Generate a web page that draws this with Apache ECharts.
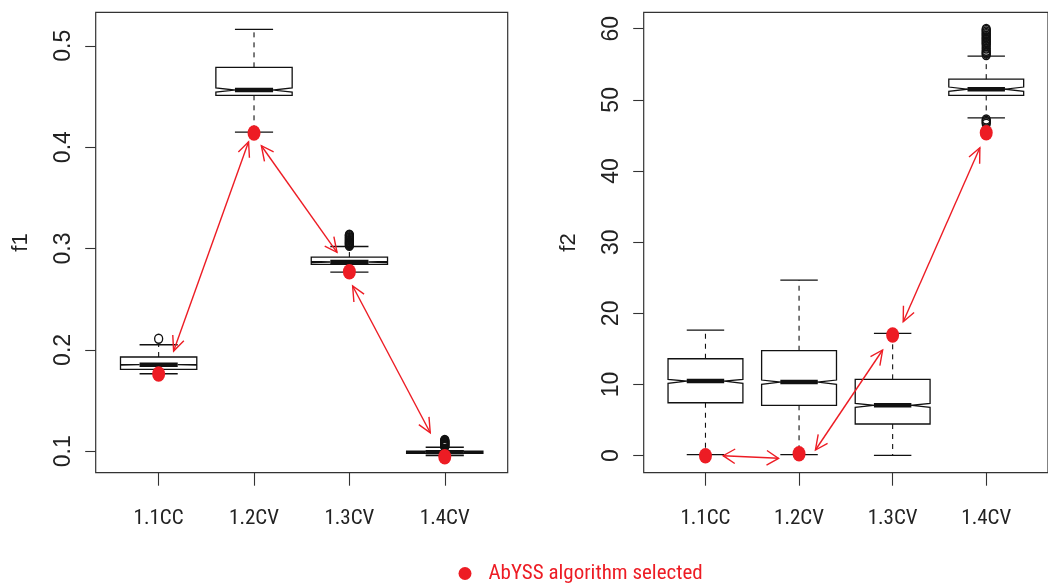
<!DOCTYPE html>
<html>
<head>
<meta charset="utf-8">
<script src="https://cdn.jsdelivr.net/npm/echarts@6/dist/echarts.min.js"></script>
<style>html,body{margin:0;padding:0;background:#fff}#c{width:1048px;height:585px}</style>
</head>
<body>
<div id="c"></div>
<script>
// ---- data ----
const categories = ['1.1CC', '1.2CV', '1.3CV', '1.4CV'];

// panel f1
const f1LowerWhisker = [0.1765, 0.4149, 0.2768, 0.0958];
const f1Q1           = [0.1809, 0.4511, 0.2844, 0.0979];
const f1NotchLow     = [0.1850, 0.4543, 0.2862, 0.0987];
const f1Median       = [0.1854, 0.4563, 0.2867, 0.0990];
const f1NotchHigh    = [0.1858, 0.4585, 0.2872, 0.0993];
const f1Q3           = [0.1930, 0.4787, 0.2916, 0.1001];
const f1UpperWhisker = [0.2051, 0.5162, 0.3020, 0.1040];
const f1Outliers = [
  [0.2110],
  [],
  [0.3028, 0.3036, 0.3044, 0.3052, 0.3060, 0.3068, 0.3076, 0.3085, 0.3094, 0.3103, 0.3112, 0.3122, 0.3130, 0.3136],
  [0.1046, 0.1052, 0.1058, 0.1064, 0.1070, 0.1076, 0.1082, 0.1088, 0.1094, 0.1100, 0.1106, 0.1112]
];
const f1Selected = [0.1762, 0.4139, 0.2771, 0.0947];
const f1Arrows = [
  [1.157, 0.1989, 1.943, 0.4053],
  [2.077, 0.4014, 2.870, 0.2963],
  [3.034, 0.2630, 3.848, 0.1183]
];
const f1Ticks = [0.1, 0.2, 0.3, 0.4, 0.5];

// panel f2
const f2LowerWhisker = [0.14, 0.14, 0.05, 47.47];
const f2Q1           = [7.44, 7.08, 4.45, 50.62];
const f2NotchLow     = [10.17, 10.03, 6.80, 51.20];
const f2Median       = [10.49, 10.35, 7.08, 51.50];
const f2NotchHigh    = [10.73, 10.63, 7.36, 51.80];
const f2Q3           = [13.62, 14.75, 10.73, 52.91];
const f2UpperWhisker = [17.65, 24.68, 17.19, 56.14];
const f2Outliers = [
  [],
  [],
  [],
  [56.3, 56.5, 56.7, 56.9, 57.2, 57.5, 57.8, 58.0, 58.2, 58.4, 58.6, 58.8, 59.0, 59.2, 59.4, 59.6, 59.8, 59.95,
   47.25, 47.05, 46.85, 46.65]
];
const f2Selected = [0.0, 0.28, 16.95, 45.37];
const f2Arrows = [
  [1.189, 0.00, 1.781, -0.37],
  [2.175, 0.80, 2.893, 14.85],
  [3.113, 18.82, 3.932, 43.26]
];
const f2Ticks = [0, 10, 20, 30, 40, 50, 60];

const legendName = 'AbYSS algorithm selected';
// --------------------------------------

const RED = '#ed1c24';
const INK = '#111';
const NARROW = '"Roboto Condensed", "Liberation Sans", sans-serif';
const SANS = '"Liberation Sans", Arial, sans-serif';
const SQUEEZE = 0.83;

function boxData(lw, q1, nlo, med, nhi, q3, uw) {
  return categories.map((c, i) => [i + 1, lw[i], q1[i], nlo[i], med[i], nhi[i], q3[i], uw[i]]);
}
function outlierData(list) {
  const out = [];
  list.forEach((arr, i) => arr.forEach(v => out.push([i + 1, v])));
  return out;
}
function selectedData(vals) {
  return vals.map((v, i) => [i + 1, v]);
}

function renderBox(params, api) {
  const x = api.value(0);
  const lw = api.value(1), q1 = api.value(2), nlo = api.value(3), med = api.value(4),
        nhi = api.value(5), q3 = api.value(6), uw = api.value(7);
  const P = (dx, y) => api.coord([x + dx, y]);
  const H = 0.4, N = 0.2, S = 0.2;
  const pts = [P(-H, q1), P(-H, nlo), P(-N, med), P(-H, nhi), P(-H, q3),
               P(H, q3), P(H, nhi), P(N, med), P(H, nlo), P(H, q1)];
  const ln = (a, b, style) => ({ type: 'line', shape: { x1: a[0], y1: a[1], x2: b[0], y2: b[1] }, style: style });
  const solid = { stroke: INK, lineWidth: 1.3 };
  const dashed = { stroke: INK, lineWidth: 1.1, lineDash: [5, 5] };
  return {
    type: 'group',
    children: [
      ln(P(0, q3), P(0, uw), dashed),
      ln(P(0, q1), P(0, lw), dashed),
      ln(P(-S, uw), P(S, uw), solid),
      ln(P(-S, lw), P(S, lw), solid),
      { type: 'polygon', shape: { points: pts }, style: { fill: 'rgba(0,0,0,0)', stroke: INK, lineWidth: 1.3 } },
      ln(P(-N, med), P(N, med), { stroke: INK, lineWidth: 4.5 })
    ]
  };
}

function renderArrow(params, api) {
  const a = api.coord([api.value(0), api.value(1)]);
  const b = api.coord([api.value(2), api.value(3)]);
  const L = 16, ANG = 27 * Math.PI / 180;
  function head(tip, from) {
    let dx = (from[0] - tip[0]) / SQUEEZE, dy = from[1] - tip[1];
    const len = Math.sqrt(dx * dx + dy * dy) || 1;
    dx /= len; dy /= len;
    const arm = s => {
      const c = Math.cos(s * ANG), sn = Math.sin(s * ANG);
      const rx = dx * c - dy * sn, ry = dx * sn + dy * c;
      return [tip[0] + rx * L * SQUEEZE, tip[1] + ry * L];
    };
    return { type: 'polyline', shape: { points: [arm(1), tip, arm(-1)] },
             style: { fill: null, stroke: RED, lineWidth: 1.4 } };
  }
  return {
    type: 'group',
    children: [
      { type: 'line', shape: { x1: a[0], y1: a[1], x2: b[0], y2: b[1] }, style: { stroke: RED, lineWidth: 1.4 } },
      head(a, b),
      head(b, a)
    ]
  };
}

const grids = [
  { left: 95.7, top: 12.3, width: 412, height: 460.4 },
  { left: 643.7, top: 12.3, width: 412, height: 460.4 }
];
const gridStyle = { show: true, borderColor: '#333', borderWidth: 1.2, backgroundColor: 'transparent' };

function xAxisFor(idx) {
  return {
    type: 'value', gridIndex: idx, min: 0.34, max: 4.66,
    splitLine: { show: false },
    axisLine: { show: false, onZero: false },
    axisTick: { show: true, length: 13, customValues: [1, 2, 3, 4], lineStyle: { color: '#333', width: 1.1 } },
    axisLabel: {
      show: true, customValues: [1, 2, 3, 4], margin: 36,
      formatter: v => categories[Math.round(v) - 1],
      fontFamily: NARROW, fontSize: 21, color: '#222'
    }
  };
}
function yAxisFor(idx, min, max, ticks, name) {
  return {
    type: 'value', gridIndex: idx, min: min, max: max,
    name: name, nameLocation: 'middle', nameGap: 64, nameRotate: 90,
    nameTextStyle: { fontFamily: SANS, fontSize: 22, color: '#222' },
    splitLine: { show: false },
    axisLine: { show: false, onZero: false },
    axisTick: { show: true, length: 10.5, customValues: ticks, lineStyle: { color: '#333', width: 1.1 } },
    axisLabel: {
      show: true, customValues: ticks, rotate: 90, margin: 21,
      formatter: v => String(v),
      fontFamily: SANS, fontSize: 23, color: '#222'
    }
  };
}

const option = {
  animation: false,
  backgroundColor: '#fff',
  grid: grids.map(g => Object.assign({}, g, gridStyle)),
  xAxis: [xAxisFor(0), xAxisFor(1)],
  yAxis: [
    yAxisFor(0, 0.0789, 0.533, f1Ticks, 'f1'),
    yAxisFor(1, -2.39, 62.3, f2Ticks, 'f2')
  ],
  legend: {
    data: [legendName], left: 453.5, top: 558, icon: 'circle',
    itemWidth: 13, itemHeight: 14, selectedMode: false,
    textStyle: { color: RED, fontSize: 21, fontFamily: NARROW, padding: [0, 0, 0, 12] }
  },
  series: [
    { type: 'custom', xAxisIndex: 0, yAxisIndex: 0, renderItem: renderBox, z: 2,
      encode: { x: 0, y: [1, 2, 3, 4, 5, 6, 7] },
      data: boxData(f1LowerWhisker, f1Q1, f1NotchLow, f1Median, f1NotchHigh, f1Q3, f1UpperWhisker) },
    { type: 'custom', xAxisIndex: 1, yAxisIndex: 1, renderItem: renderBox, z: 2,
      encode: { x: 0, y: [1, 2, 3, 4, 5, 6, 7] },
      data: boxData(f2LowerWhisker, f2Q1, f2NotchLow, f2Median, f2NotchHigh, f2Q3, f2UpperWhisker) },
    { type: 'scatter', xAxisIndex: 0, yAxisIndex: 0, symbol: 'circle', symbolSize: [8, 9], z: 3,
      itemStyle: { color: 'rgba(0,0,0,0)', borderColor: INK, borderWidth: 1.4, opacity: 1 },
      data: outlierData(f1Outliers) },
    { type: 'scatter', xAxisIndex: 1, yAxisIndex: 1, symbol: 'circle', symbolSize: [8, 9], z: 3,
      itemStyle: { color: 'rgba(0,0,0,0)', borderColor: INK, borderWidth: 1.4, opacity: 1 },
      data: outlierData(f2Outliers) },
    { name: legendName, type: 'scatter', xAxisIndex: 0, yAxisIndex: 0, symbol: 'circle',
      symbolSize: [13, 15.5], z: 4, itemStyle: { color: RED, opacity: 1 },
      data: selectedData(f1Selected) },
    { name: legendName, type: 'scatter', xAxisIndex: 1, yAxisIndex: 1, symbol: 'circle',
      symbolSize: [13, 15.5], z: 4, itemStyle: { color: RED, opacity: 1 },
      data: selectedData(f2Selected) },
    { type: 'custom', xAxisIndex: 0, yAxisIndex: 0, renderItem: renderArrow, z: 5,
      encode: { x: [0, 2], y: [1, 3] }, data: f1Arrows },
    { type: 'custom', xAxisIndex: 1, yAxisIndex: 1, renderItem: renderArrow, z: 5,
      encode: { x: [0, 2], y: [1, 3] }, data: f2Arrows }
  ]
};

const chart = echarts.init(document.getElementById('c'), null, { renderer: 'canvas' });
chart.setOption(option);
</script>
</body>
</html>
